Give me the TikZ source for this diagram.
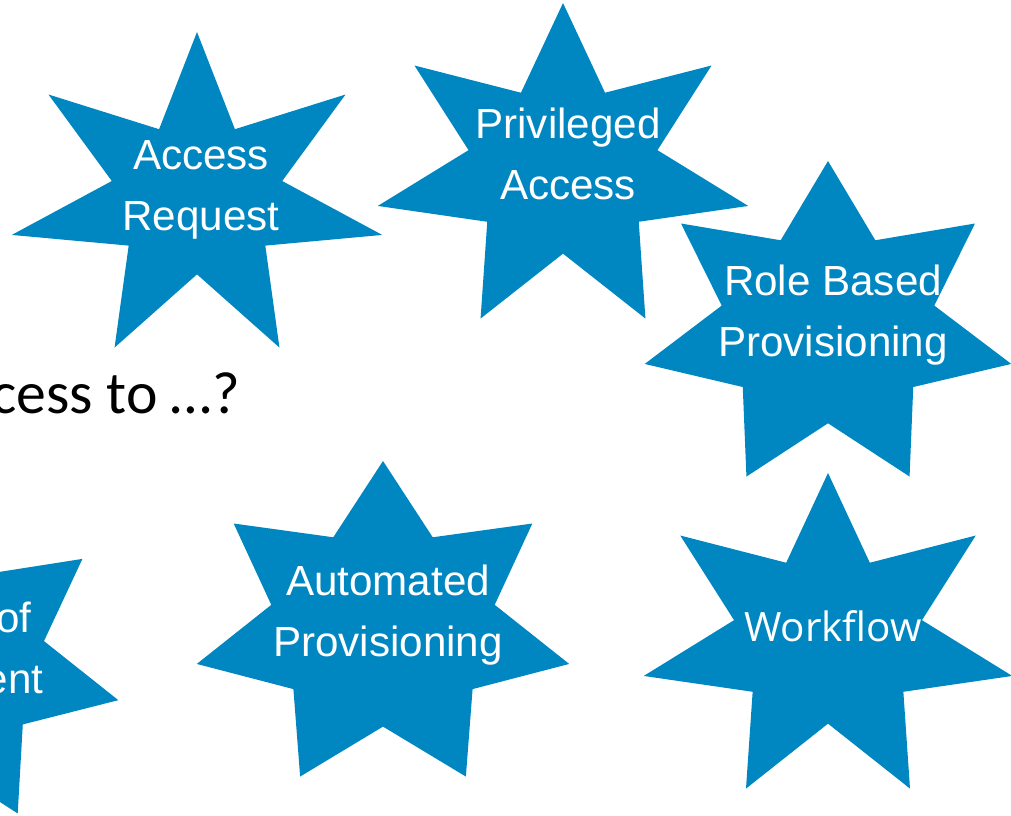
\documentclass[tikz,border=0pt]{standalone}
\usepackage{fontspec}
\newfontfamily\starfont{Liberation Sans}
\newfontfamily\flowfont{Open Sans}
\newfontfamily\askfont{Carlito}
\definecolor{starblue}{RGB}{0,135,193}

\begin{document}
\begin{tikzpicture}[x=0.02cm,y=-0.02cm,
        starfill/.style={fill=starblue},
        startext/.style={text=white,align=center,inner sep=0pt,font=\starfont\fontsize{24}{35}\selectfont}]
    \newcommand\sevenstar[5]{% {<name>}{<center>}{<x radius>}{<y radius>}{<inner ratio>}
        \coordinate (#1) at #2;
        \pgfmathsetmacro\innerx{#5*#3}
        \pgfmathsetmacro\innery{#5*#4}
        \fill[starfill,shift={#2}] (-90:#3 and #4)
            \foreach \k in {0,...,6}{
                -- ({-90+\k*360/7+180/7}:\innerx\space and \innery)
                -- ({-90+(\k+1)*360/7}:#3 and #4)
            } -- cycle;
    }

    \useasboundingbox (0,0) rectangle (1011,815);
    \clip (0,0) rectangle (1011,815);

    \sevenstar{reqstar}{(197,198)}{190}{166}{0.46}
    \sevenstar{privstar}{(563,169)}{190}{166}{0.51}
    \sevenstar{rolestar}{(828,327)}{188}{166}{0.58}
    \sevenstar{autostar}{(383,627)}{191}{166}{0.60}
    \sevenstar{flowstar}{(828,639)}{189}{166}{0.51}
    \sevenstar{cutstar}{(-63,663)}{186}{167}{0.59}

    \node[startext] (accessreq) at (201,190) {Access\\Request};
    \node[startext] (privaccess) at (568,154) {Privileged\\Access};
    \node[startext] (roleprov) at (833,315) {Role Based\\Provisioning};
    \node[startext] (autoprov) at (388,615) {Automated\\Provisioning};
    \node[startext,font=\flowfont\fontsize{23}{28}\selectfont,anchor=base] (workflow) at (833,641) {Workflow};
    \node[startext] (cutlabel) at (14,648) {of\\ent};

    \node[font=\askfont\fontsize{34}{40}\selectfont,anchor=base west,inner sep=0pt] (question) at (-9,413) {cess to …?};
\end{tikzpicture}
\end{document}
